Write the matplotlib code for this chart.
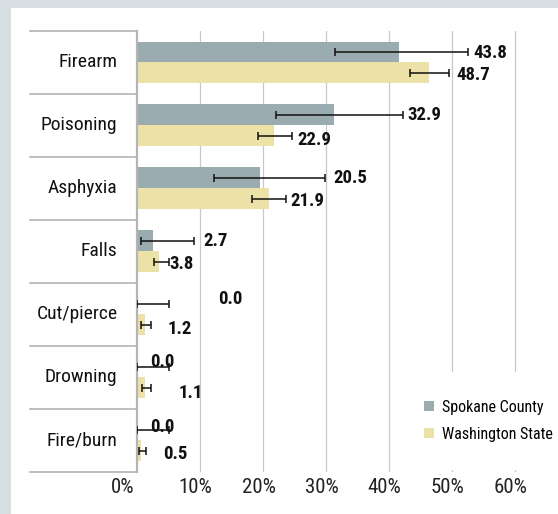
import matplotlib
matplotlib.use("Agg")
import matplotlib.pyplot as plt
import matplotlib.transforms as mtransforms
from matplotlib.patches import Patch, Rectangle
import numpy as np

plt.rcParams['font.family'] = ['Roboto Condensed', 'DejaVu Sans']
plt.rcParams['font.stretch'] = 'condensed'

# data (bar lengths in %, error bar ends, printed labels)
categories = ['Firearm', 'Poisoning', 'Asphyxia', 'Falls', 'Cut/pierce', 'Drowning', 'Fire/burn']
spokane_pct = [41.6, 31.2, 19.5, 2.5, 0.0, 0.0, 0.0]
spokane_lo = [31.5, 22.1, 12.3, 0.7, 0.0, 0.0, 0.0]
spokane_hi = [52.6, 42.2, 29.8, 9.0, 5.0, 5.0, 5.0]
spokane_labels = ['43.8', '32.9', '20.5', '2.7', '0.0', '0.0', '0.0']

wa_pct = [46.3, 21.8, 20.9, 3.5, 1.2, 1.3, 0.7]
wa_lo = [43.3, 19.2, 18.3, 2.7, 0.7, 0.8, 0.3]
wa_hi = [49.6, 24.6, 23.6, 5.0, 2.3, 2.2, 1.4]
wa_labels = ['48.7', '22.9', '21.9', '3.8', '1.2', '1.1', '0.5']

tick_vals = [0, 10, 20, 30, 40, 50, 60]

c_spk = '#9aacaf'
c_wa = '#ece1a6'
c_line = '#b4b4b4'

W, H = 558, 514
fig = plt.figure(figsize=(W / 100, H / 100), dpi=100)
fig.patch.set_facecolor('#d8dfe2')
# white panel behind everything
fig.patches.append(Rectangle((10.7 / W, 0), 1, (H - 8) / H, transform=fig.transFigure,
                             facecolor='white', edgecolor='none', zorder=-5))

x0, top, bot = 137.0, 31.0, 471.7
ax = fig.add_axes([x0 / W, (H - bot) / H, 1 - x0 / W, (bot - top) / H])
ax.set_facecolor('none')

n = len(categories)
y = np.arange(n)
h = 0.333

spk = np.array(spokane_pct)
wa = np.array(wa_pct)
spk_err = [spk - np.array(spokane_lo), np.array(spokane_hi) - spk]
wa_err = [wa - np.array(wa_lo), np.array(wa_hi) - wa]

ax.barh(y - h / 2, spk, height=h, color=c_spk, zorder=2)
ax.barh(y + h / 2, wa, height=h, color=c_wa, zorder=2)
ax.errorbar(spk, y - h / 2, xerr=spk_err, fmt='none', ecolor='#111111',
            elinewidth=1.1, capsize=3.2, capthick=1.1, zorder=3)
ax.errorbar(wa, y + h / 2, xerr=wa_err, fmt='none', ecolor='#111111',
            elinewidth=1.1, capsize=3.2, capthick=1.1, zorder=3)

# value labels, nudged like in the original
spk_nudge = [0.8, 0.7, 1.4, 1.6, 7.9, -2.9, -2.9]
wa_nudge = [1.1, 0.8, 0.8, 0.1, 2.6, 4.4, 2.7]
spk_dy = [0.02, 0.0, 0.0, 0.0, -0.08, -0.07, -0.05]
wa_dy = [0.03, 0.06, 0.03, 0.03, 0.06, 0.09, 0.05]
for i in range(n):
    ax.text(spokane_hi[i] + spk_nudge[i], y[i] - h / 2 + spk_dy[i], spokane_labels[i],
            ha='left', va='center', fontsize=13.5, fontweight='bold', color='#111111', zorder=4)
    ax.text(wa_hi[i] + wa_nudge[i], y[i] + h / 2 + wa_dy[i], wa_labels[i],
            ha='left', va='center', fontsize=13.5, fontweight='bold', color='#111111', zorder=4)

ax.set_xlim(0, (W - x0) / 6.3)
ax.set_ylim(n - 0.5, -0.5)

# grid
for v in tick_vals[1:]:
    ax.axvline(v, color='#c8c8c8', lw=0.9, zorder=1)

for s in ['top', 'right', 'bottom']:
    ax.spines[s].set_visible(False)
ax.spines['left'].set_color(c_line)
ax.spines['left'].set_linewidth(1.6)

ax.set_yticks([])
ax.set_xticks(tick_vals)
ax.set_xticklabels([f'{v}%' for v in tick_vals], fontsize=15, color='#222222')
ax.tick_params(axis='x', length=0, pad=4.5)
for k, lab in enumerate(ax.get_xticklabels()):
    dx = -14 if k == 0 else -4.5
    shift = mtransforms.ScaledTranslation(dx / 100, 0, fig.dpi_scale_trans)
    lab.set_transform(lab.get_transform() + shift)

# label column: separators and category names
trans = mtransforms.blended_transform_factory(ax.transAxes, ax.transData)
x_left = (30 - x0) / (W - x0)
for b in np.arange(n + 1) - 0.5:
    ax.plot([x_left, 0], [b, b], color=c_line, lw=1.2, transform=trans, clip_on=False)
for i, cat in enumerate(categories):
    ax.text((117.4 - x0) / (W - x0), y[i], cat, transform=trans, ha='right', va='center',
            fontsize=14, color='#111111')

handles = [Patch(facecolor=c_spk, edgecolor='none'), Patch(facecolor=c_wa, edgecolor='none')]
leg = ax.legend(handles, ['Spokane County', 'Washington State'], loc='upper left',
                bbox_to_anchor=(396 / W, 1 - 372 / H), bbox_transform=fig.transFigure,
                fontsize=11.5, frameon=True, facecolor='white', edgecolor='none',
                framealpha=1, fancybox=False, borderpad=1.75, handlelength=0.6,
                handleheight=0.6, handletextpad=0.5, labelspacing=0.75, borderaxespad=0)
leg.set_zorder(5)

fig.savefig('out.png', dpi=100, facecolor=fig.get_facecolor())
